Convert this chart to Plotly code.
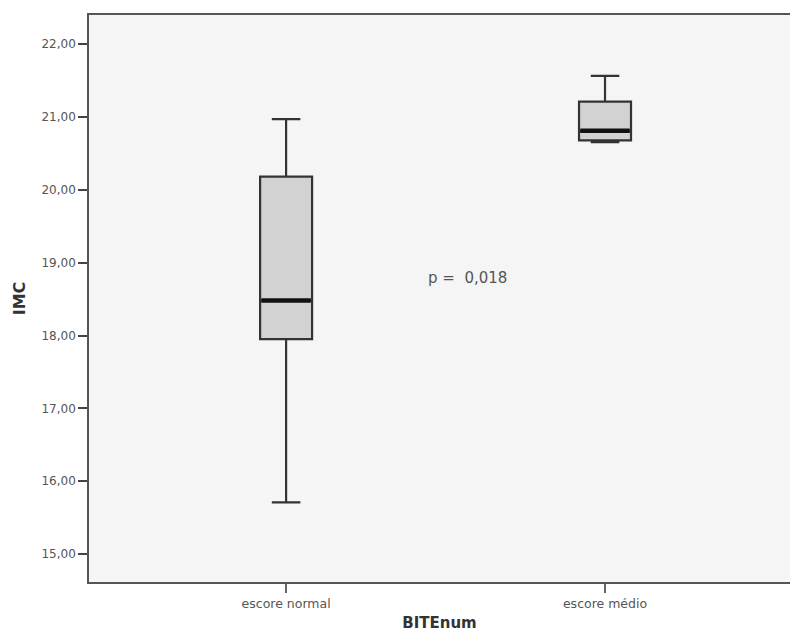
import plotly.graph_objects as go

# IMC by BITEnum group (five-number summaries)
categories = ["escore normal", "escore médio"]
lower_whisker = [15.71, 20.655]
q1_values = [17.95, 20.68]
median_values = [18.48, 20.81]
q3_values = [20.18, 21.21]
upper_whisker = [20.97, 21.565]
p_label = "p =\u00a0\u00a00,018"
p_position = (0.57, 18.79)

y_ticks = [15, 16, 17, 18, 19, 20, 21, 22]
y_ticktext = [f"{v},00" for v in y_ticks]

FONT = "DejaVu Sans"
positions = list(range(len(categories)))
box_width = 0.163

fig = go.Figure()

fig.add_trace(go.Box(
    x=positions,
    q1=q1_values,
    median=median_values,
    q3=q3_values,
    lowerfence=lower_whisker,
    upperfence=upper_whisker,
    width=box_width,
    whiskerwidth=0.55,
    boxpoints=False,
    fillcolor="#d2d2d2",
    line=dict(color="#333333", width=2.2),
    showlegend=False,
    hoverinfo="skip",
))

# heavy median bars
for pos, med in zip(positions, median_values):
    fig.add_trace(go.Scatter(
        x=[pos - box_width / 2 + 0.004, pos + box_width / 2 - 0.004],
        y=[med, med],
        mode="lines",
        line=dict(color="#111111", width=4.5),
        showlegend=False,
        hoverinfo="skip",
    ))

fig.add_annotation(
    x=p_position[0], y=p_position[1], xref="x", yref="y",
    text=p_label, showarrow=False,
    font=dict(family=FONT, size=15, color="#555555"),
)

fig.update_layout(
    width=790, height=639,
    margin=dict(l=89, r=0, t=15, b=57, pad=0),
    paper_bgcolor="#ffffff",
    plot_bgcolor="#f5f5f5",
    font=dict(family=FONT, size=12, color="#555555"),
    xaxis=dict(
        range=[-0.618, 1.58],
        tickmode="array",
        tickvals=positions,
        ticktext=categories,
        tickfont=dict(family=FONT, size=12.5, color="#555555"),
        ticks="outside", ticklen=9, tickwidth=1.5, tickcolor="#666666",
        showline=True, linecolor="#555555", linewidth=1.5, mirror=True,
        showgrid=False, zeroline=False,
        title=dict(text="<b>BITEnum</b>", font=dict(family=FONT, size=15, color="#333333"), standoff=8),
    ),
    yaxis=dict(
        range=[14.616, 22.40],
        tickmode="array",
        tickvals=y_ticks,
        ticktext=y_ticktext,
        tickfont=dict(family=FONT, size=12, color="#555555"),
        ticks="outside", ticklen=9, tickwidth=2, tickcolor="#444444",
        showline=True, linecolor="#555555", linewidth=1.5, mirror=False,
        showgrid=False, zeroline=False,
        title=dict(text="<b>IMC</b>", font=dict(family=FONT, size=16, color="#333333"), standoff=12),
    ),
)

fig.write_html("out.html")
